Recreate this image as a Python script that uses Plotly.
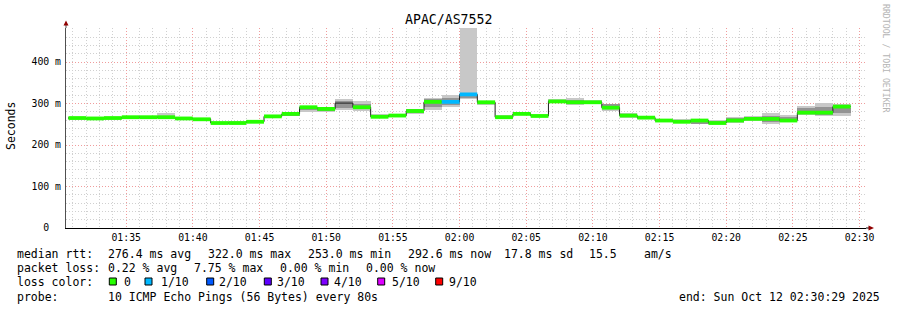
import pandas as pd
import plotly.graph_objects as go

# ---------------- data ----------------
title_text = "APAC/AS7552"
step_seconds = 80
first_bin_start = "2025-10-12 01:30:40"
range_start = "2025-10-12 01:30:29"
range_end = "2025-10-12 02:30:29"

median_ms = [265, 264, 265, 267, 267, 267, 264, 262, 253, 253,
             256, 269, 275, 291, 287, 301, 291, 268, 271, 282,
             304, 304, 322, 303, 267, 275, 270, 305, 303, 303,
             290, 271, 266, 259, 256, 259, 253, 259, 263, 263,
             259, 278, 278, 292.6]
smoke_lo = [263, 262, 263, 265, 265, 265, 262, 260, 251, 251,
            254, 267, 269, 280, 280, 285, 281, 266, 268, 275,
            285, 291, 311, 296, 265, 272, 268, 302, 296, 300,
            283, 266, 264, 257, 252, 250, 250, 254, 258, 251,
            256, 273, 269, 269]
smoke_hi = [267, 266, 267, 269, 269, 276, 266, 264, 255, 259,
            258, 272, 280, 293, 290, 311, 306, 275, 275, 288,
            313, 320, 490, 306, 273, 279, 272, 311, 313, 308,
            300, 277, 269, 261, 263, 263, 260, 268, 270, 276,
            272, 294, 301, 298]
core_lo = [264, 263, 264, 266, 266, 266, 263, 261, 252, 252,
           255, 268, 271, 285, 283, 290, 286, 267, 269, 278,
           292, 296, 313, 298, 266, 273, 269, 303, 299, 301,
           286, 268, 265, 258, 254, 251, 251, 256, 260, 256,
           258, 276, 273, 276]
core_hi = [266, 265, 266, 268, 268, 269, 265, 263, 254, 255,
           257, 270, 277, 291, 289, 305, 300, 273, 273, 286,
           310, 314, 325, 305, 271, 277, 271, 308, 309, 306,
           298, 275, 268, 260, 260, 262, 257, 264, 267, 271,
           268, 290, 291, 290]
# loss class index per step (0 -> "0", 1 -> "1/10"); None = no colour band
loss_class = [0] * 15 + [None] + [0] * 5 + [1, 1] + [0] * 21

loss_labels = ["0", "1/10", "2/10", "3/10", "4/10", "5/10", "9/10"]
loss_colors = ["#26ff00", "#00b8ff", "#0059ff", "#5e00ff", "#7e00ff", "#dd00ff", "#ff0000"]

y_tick_vals = [0, 100, 200, 300, 400]
y_tick_text = ["0\u00a0\u00a0", "100 m", "200 m", "300 m", "400 m"]

stats_rtt = [("median rtt:", 16), ("276.4 ms avg", 107.3), ("322.0 ms max", 207.3),
             ("253.0 ms min", 307.3), ("292.6 ms now", 407.3), ("17.8 ms sd", 502.7),
             ("15.5", 587.7), ("am/s", 642.7)]
stats_loss = [("packet loss:", 16), ("0.22 % avg", 107.3), ("7.75 % max", 193.3),
              ("0.00 % min", 279.3), ("0.00 % now", 365.3)]
legend_box_x = [109.3, 145.0, 206.7, 264.3, 321.0, 377.7, 435.7]
legend_text_x = [122.7, 160.0, 217.7, 275.7, 333.3, 391.0, 448.3]
probe_text = "10 ICMP Echo Pings (56 Bytes) every 80s"
end_text = "end: Sun Oct 12 02:30:29 2025"
watermark = "RRDTOOL / TOBI OETIKER"

# ---------------- geometry ----------------
W, H = 897, 310
ML, MR, MT, MB = 66, 31, 28, 82
PW, PH = W - ML - MR, H - MT - MB
Y_MAX = 482
FONT = "DejaVu Sans Mono"


def px(xp):
    return (xp - ML) / PW


def py(yp):
    return (H - MB - yp) / PH


n = len(median_ms)
starts = pd.date_range(first_bin_start, periods=n, freq=f"{step_seconds}s")
ends = starts + pd.Timedelta(seconds=step_seconds)
step_ms = step_seconds * 1000

fig = go.Figure()

# smoke (outer, light)
fig.add_trace(go.Bar(
    x=starts, y=[h - l for h, l in zip(smoke_hi, smoke_lo)], base=smoke_lo,
    width=step_ms, offset=0, marker=dict(color="#c8c8c8", line=dict(width=0)),
    hoverinfo="skip", showlegend=False))
# smoke (core, darker)
fig.add_trace(go.Bar(
    x=starts, y=[h - l for h, l in zip(core_hi, core_lo)], base=core_lo,
    width=step_ms, offset=0, marker=dict(color="#939393", line=dict(width=0)),
    hoverinfo="skip", showlegend=False))

# median step line
fig.add_trace(go.Scatter(
    x=list(starts) + [ends[-1]], y=median_ms + [median_ms[-1]],
    mode="lines", line=dict(color="#202020", width=1, shape="hv"),
    hoverinfo="skip", showlegend=False))

# loss-coloured median bands
for ci, col in enumerate(loss_colors):
    xs, ys = [], []
    for i in range(n):
        if loss_class[i] == ci:
            xs += [starts[i], ends[i], None]
            ys += [median_ms[i], median_ms[i], None]
    if xs:
        fig.add_trace(go.Scatter(
            x=xs, y=ys, mode="lines", line=dict(color=col, width=3.8),
            hoverinfo="skip", showlegend=False, connectgaps=False))

annotations = []
for txt, xp in stats_rtt:
    annotations.append(dict(text=txt, x=px(xp), y=py(253.8)))
for txt, xp in stats_loss:
    annotations.append(dict(text=txt, x=px(xp), y=py(268.2)))
annotations.append(dict(text="loss color:", x=px(16), y=py(282.3)))
for txt, xp in zip(loss_labels, legend_text_x):
    annotations.append(dict(text=txt, x=px(xp), y=py(282.3)))
annotations.append(dict(text="probe:", x=px(16), y=py(296.6)))
annotations.append(dict(text=probe_text, x=px(107.3), y=py(296.6)))
annotations.append(dict(text=end_text, x=px(678.3), y=py(296.6)))
for a in annotations:
    a.update(xref="paper", yref="paper", xanchor="left", yanchor="middle",
             showarrow=False, borderpad=0, font=dict(family=FONT, size=11.5, color="#000000"))

annotations.append(dict(text="Seconds", textangle=-90, x=px(11), y=py(126),
                        xref="paper", yref="paper", xanchor="center", yanchor="middle",
                        showarrow=False, font=dict(family=FONT, size=11.5, color="#000000")))
annotations.append(dict(text=title_text, x=px(448.5), y=py(19),
                        xref="paper", yref="paper", xanchor="center", yanchor="middle",
                        showarrow=False, font=dict(family=FONT, size=13.2, color="#000000")))
annotations.append(dict(text=watermark, textangle=90, x=px(886), y=py(59),
                        xref="paper", yref="paper", xanchor="center", yanchor="middle",
                        showarrow=False, font=dict(family=FONT, size=8.2, color="#b4b4b4")))

shapes = []
for xp, col in zip(legend_box_x, loss_colors):
    shapes.append(dict(type="rect", xref="paper", yref="paper",
                       x0=px(xp), x1=px(xp + 7), y0=py(285), y1=py(278),
                       fillcolor=col, line=dict(color="#000000", width=1)))
# axis extensions and arrows
shapes.append(dict(type="line", xref="paper", yref="paper", x0=1, x1=px(869), y0=0, y1=0,
                   line=dict(color="#000000", width=1)))
shapes.append(dict(type="line", xref="paper", yref="paper", x0=0, x1=0, y0=1, y1=py(24),
                   line=dict(color="#505050", width=1)))
shapes.append(dict(type="path", xref="paper", yref="paper",
                   path=f"M {px(868.5)},{py(225.5)} L {px(874)},{py(228)} L {px(868.5)},{py(230.5)} Z",
                   fillcolor="#900000", line=dict(width=0)))
shapes.append(dict(type="path", xref="paper", yref="paper",
                   path=f"M {px(63.5)},{py(25.5)} L {px(66)},{py(20.5)} L {px(68.5)},{py(25.5)} Z",
                   fillcolor="#900000", line=dict(width=0)))

fig.update_layout(
    width=W, height=H, margin=dict(l=ML, r=MR, t=MT, b=MB, pad=0),
    paper_bgcolor="#ffffff", plot_bgcolor="#ffffff",
    barmode="overlay", bargap=0, showlegend=False,
    annotations=annotations, shapes=shapes,
    font=dict(family=FONT, size=10, color="#000000"),
    xaxis=dict(type="date", range=[range_start, range_end],
               tick0="2025-10-12 01:35:00", dtick=300000, tickformat="%H:%M",
               showgrid=True, gridcolor="#f09c9c", griddash="1px,2px", gridwidth=1,
               minor=dict(dtick=60000, tick0="2025-10-12 01:35:00", showgrid=True,
                          gridcolor="#d0d0d0", griddash="1px,2px", gridwidth=1),
               showline=True, linecolor="#000000", linewidth=1, ticks="",
               zeroline=False, tickfont=dict(family=FONT, size=9.8, color="#000000"),
               fixedrange=True),
    yaxis=dict(range=[0, Y_MAX], tickvals=y_tick_vals, ticktext=y_tick_text,
               showgrid=True, gridcolor="#f09c9c", griddash="1px,2px", gridwidth=1,
               minor=dict(dtick=20, showgrid=True, gridcolor="#d0d0d0",
                          griddash="1px,2px", gridwidth=1),
               showline=True, linecolor="#505050", linewidth=1, ticks="",
               zeroline=False, tickfont=dict(family=FONT, size=9.8, color="#000000"),
               ticklabelstandoff=2, fixedrange=True),
)

fig.write_html("out.html")
